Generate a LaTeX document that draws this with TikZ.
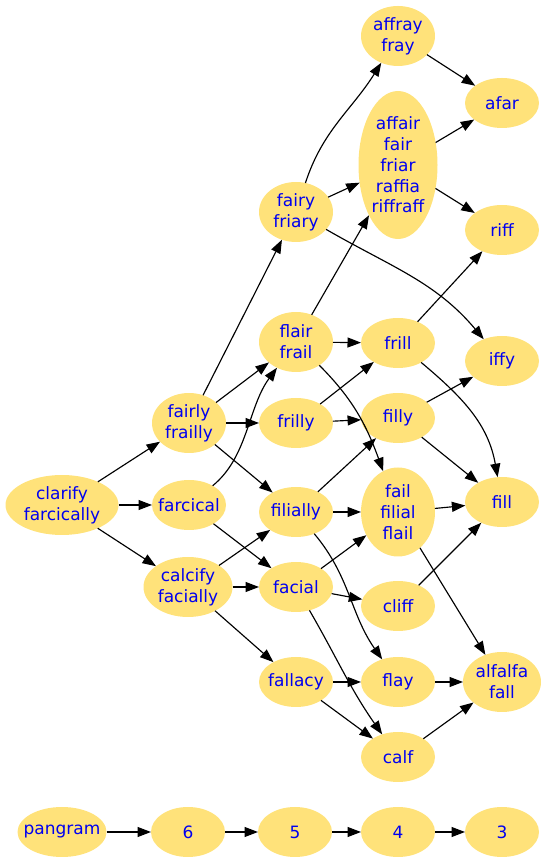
\documentclass[tikz,border=0pt]{standalone}
\usepackage{fontspec}
\setmainfont{DejaVu Sans}
\usetikzlibrary{shapes.geometric, arrows.meta}
\definecolor{nodefill}{RGB}{255,226,122}
\definecolor{nodetext}{RGB}{0,0,240}
\newcommand\lbl[1]{\makebox[0pt]{#1}}
\begin{document}
\begin{tikzpicture}[x=1pt,y=1pt,
  word/.style={ellipse, fill=nodefill, text=nodetext, inner sep=0pt, outer sep=0pt,
    minimum width=74pt, minimum height=50pt, align=center,
    font=\fontsize{17}{20.7}\selectfont},
  two/.style={minimum height=60pt},
  edge/.style={draw=black, line width=1.15pt, -{Triangle[length=13.5pt,width=10pt]}}]
\useasboundingbox (0,0) rectangle (547,862);
% column 1
\node[word,two,minimum width=113pt] (clarify) at (62,357) {\lbl{clarify}\\\lbl{farcically}};
% column 2
\node[word,two] (fairly) at (189,439) {\lbl{fairly}\\\lbl{frailly}};
\node[word] (farcical) at (189,357) {\lbl{farcical}};
\node[word,two,minimum width=89pt] (calcify) at (188,275) {\lbl{calcify}\\\lbl{facially}};
% column 3
\node[word,two] (fairy) at (296,650) {\lbl{fairy}\\\lbl{friary}};
\node[word,two] (flair) at (296,520) {\lbl{flair}\\\lbl{frail}};
\node[word] (frilly) at (296,439) {\lbl{frilly}};
\node[word] (filially) at (296,350) {\lbl{filially}};
\node[word] (facial) at (296,275) {\lbl{facial}};
\node[word] (fallacy) at (296,180) {\lbl{fallacy}};
% column 4
\node[word,two] (affray) at (398,826) {\lbl{affray}\\\lbl{fray}};
\node[word,minimum width=79pt,minimum height=148pt] (affair) at (398,697) {\lbl{affair}\\\lbl{fair}\\\lbl{friar}\\\lbl{raffia}\\\lbl{riffraff}};
\node[word] (frill) at (398,519) {\lbl{frill}};
\node[word] (filly) at (398,444) {\lbl{filly}};
\node[word,minimum height=89pt] (fail) at (398,350) {\lbl{fail}\\\lbl{filial}\\\lbl{flail}};
\node[word] (cliff) at (398,256) {\lbl{cliff}};
\node[word] (flay) at (398,180) {\lbl{flay}};
\node[word] (calf) at (398,105) {\lbl{calf}};
% column 5
\node[word] (afar) at (502,759) {\lbl{afar}};
\node[word] (riff) at (502,632) {\lbl{riff}};
\node[word] (iffy) at (502,501) {\lbl{iffy}};
\node[word] (fill) at (502,360) {\lbl{fill}};
\node[word,two,minimum width=78pt] (alfalfa) at (502,180) {\lbl{alfalfa}\\\lbl{fall}};
% bottom row
\node[word,minimum width=89pt] (pangram) at (62,30) {\lbl{pangram}};
\node[word] (n6) at (188,30) {\lbl{6}};
\node[word] (n5) at (295,30) {\lbl{5}};
\node[word] (n4) at (398,30) {\lbl{4}};
\node[word] (n3) at (502,30) {\lbl{3}};
% edges
\draw[edge] (clarify) -- (fairly);
\draw[edge] (clarify) -- (farcical);
\draw[edge] (clarify) -- (calcify);
\draw[edge] (fairly) -- (fairy);
\draw[edge] (fairly) -- (flair);
\draw[edge] (fairly) -- (frilly);
\draw[edge] (fairly) -- (filially);
\draw[edge] (farcical) .. controls (248,405) and (248,455) .. (flair);
\draw[edge] (farcical) -- (facial);
\draw[edge] (calcify) -- (filially);
\draw[edge] (calcify) -- (facial);
\draw[edge] (calcify) -- (fallacy);
\draw[edge] (fairy) to[out=72, in=238] (affray);
\draw[edge] (fairy) -- (affair);
\draw[edge] (fairy) to[out=-30, in=130] (iffy);
\draw[edge] (flair) -- (affair);
\draw[edge] (flair) -- (frill);
\draw[edge] (flair) to[out=-45, in=110] (fail);
\draw[edge] (frilly) -- (frill);
\draw[edge] (frilly) -- (filly);
\draw[edge] (filially) -- (filly);
\draw[edge] (filially) -- (fail);
\draw[edge] (filially) to[out=-50, in=125] (flay);
\draw[edge] (facial) -- (fail);
\draw[edge] (facial) -- (cliff);
\draw[edge] (facial) to[out=-60, in=125] (calf);
\draw[edge] (fallacy) -- (flay);
\draw[edge] (fallacy) -- (calf);
\draw[edge] (affray) -- (afar);
\draw[edge] (affair) -- (afar);
\draw[edge] (affair) -- (riff);
\draw[edge] (frill) -- (riff);
\draw[edge] (frill) to[out=-40, in=100] (fill);
\draw[edge] (filly) -- (iffy);
\draw[edge] (filly) -- (fill);
\draw[edge] (fail) -- (fill);
\draw[edge] (fail) -- (alfalfa);
\draw[edge] (cliff) -- (fill);
\draw[edge] (flay) -- (alfalfa);
\draw[edge] (calf) -- (alfalfa);
\draw[edge] (pangram) -- (n6);
\draw[edge] (n6) -- (n5);
\draw[edge] (n5) -- (n4);
\draw[edge] (n4) -- (n3);
\end{tikzpicture}
\end{document}
